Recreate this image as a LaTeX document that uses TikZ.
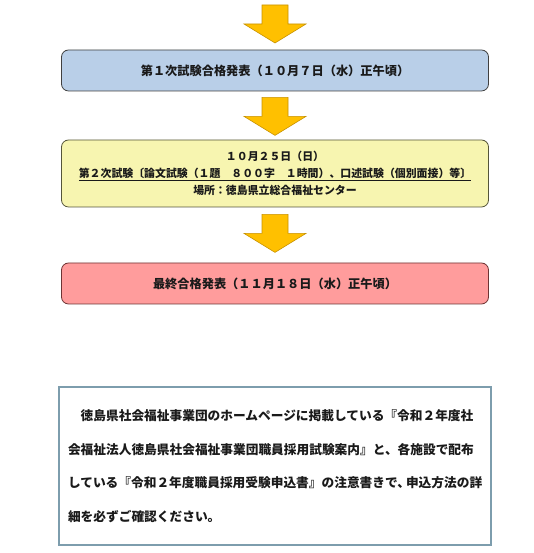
\documentclass[tikz,border=0pt]{standalone}
\usepackage{fontspec}
\setmainfont{Noto Sans CJK JP}
\usetikzlibrary{calc,positioning}
\definecolor{ink}{HTML}{1A1A1A}
\definecolor{frame}{HTML}{404040}
\definecolor{skyFill}{HTML}{B9CFE8}
\definecolor{lemonFill}{HTML}{F7F5B0}
\definecolor{lemonLine}{HTML}{55553A}
\definecolor{roseFill}{HTML}{FF9C9C}
\definecolor{roseLine}{HTML}{6E3434}
\definecolor{gold}{HTML}{FFC000}
\definecolor{goldLine}{HTML}{C89200}
\definecolor{noteLine}{HTML}{7D9DAD}
\tikzset{
  stagebox/.style={draw=frame,line width=0.8pt,rounded corners=7pt,align=center,text=ink,
    minimum width=427pt,inner sep=0pt,font=\fontsize{12.2}{15}\selectfont\bfseries},
  firstbox/.style={stagebox,fill=skyFill,minimum height=41pt},
  secondbox/.style={stagebox,draw=lemonLine,fill=lemonFill,minimum height=67pt,
    font=\fontsize{10.9}{16.8}\selectfont\bfseries},
  finalbox/.style={stagebox,draw=roseLine,fill=roseFill,minimum height=41pt},
  notebox/.style={draw=noteLine,line width=1.1pt,align=left,text=ink,text width=414pt,
    inner xsep=9pt,minimum width=432pt,minimum height=158pt,
    font=\fontsize{12.7}{33.6}\selectfont\bfseries},
  blockarrow/.style={fill=gold,draw=goldLine,line width=0.6pt,line join=miter}
}
% block arrow hanging from a top point
\newcommand{\stagearrow}[1]{%
  \draw[blockarrow] ($(#1)+(-13,0)$) -- ($(#1)+(13,0)$) -- ($(#1)+(13,-19)$)
    -- ($(#1)+(31,-19)$) -- ($(#1)+(0,-38)$) -- ($(#1)+(-31,-19)$)
    -- ($(#1)+(-13,-19)$) -- cycle;}
\begin{document}
\begin{tikzpicture}[x=1pt,y=1pt]
  \useasboundingbox (0,0) rectangle (534,553);

  \node[firstbox] (first) at (275,482.5) {第１次試験合格発表（１０月７日（水）正午頃）};
  \node[secondbox] (second) at (275,379.5)
    {１０月２５日（日）\\
     \underline{第２次試験〔論文試験（１題　８００字　１時間）、口述試験（個別面接）等〕}\\
     場所：徳島県立総合福祉センター};
  \node[finalbox] (final) at (275,269.5) {最終合格発表（１１月１８日（水）正午頃）};

  \coordinate (top1) at (275,548);
  \coordinate (top2) at ([yshift=-6pt]first.south);
  \coordinate (top3) at ([yshift=-7pt]second.south);
  \stagearrow{top1}
  \stagearrow{top2}
  \stagearrow{top3}

  \node[notebox] (note) at (275,87)
    {　徳島県社会福祉事業団のホームページに掲載している『令和２年度社\\
     会福祉法人徳島県社会福祉事業団職員採用試験案内』と、各施設で配布\\
     している『令和２年度職員採用受験申込書』の注意書きで、\kern-4pt 申込方法の詳\\
     細を必ずご確認ください。};
\end{tikzpicture}
\end{document}
